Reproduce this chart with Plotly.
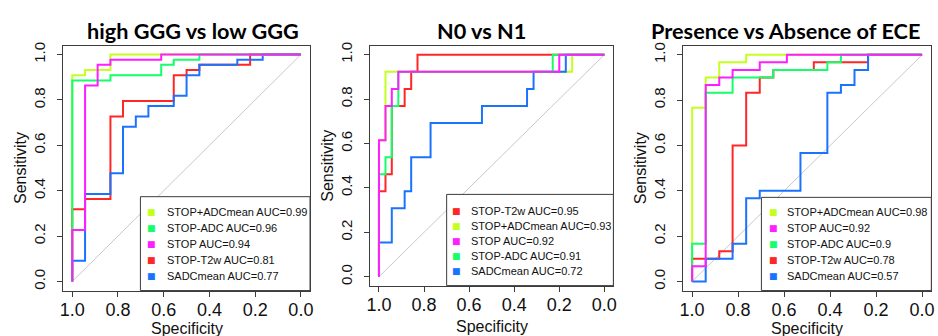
import plotly.graph_objects as go

W, H = 938, 336

# ---------------- data ----------------
spec_ticks = [1.0, 0.8, 0.6, 0.4, 0.2, 0.0]
sens_ticks = [0.0, 0.2, 0.4, 0.6, 0.8, 1.0]
spec_tick_text = ["1.0", "0.8", "0.6", "0.4", "0.2", "0.0"]
sens_tick_text = ["0.0", "0.2", "0.4", "0.6", "0.8", "1.0"]

titles = ["high GGG vs low GGG", "N0 vs N1", "Presence vs Absence of ECE"]
x_title = "Specificity"
y_title = "Sensitivity"

# reference (chance) line
diag_spec = [1.0, 0.0]
diag_sens = [0.0, 1.0]

# ROC step-curve corner points (specificity, sensitivity)
# Panel 1: high GGG vs low GGG
p1_stop_adcmean_spec = [1.0, 0.944, 0.833, 0.0]
p1_stop_adcmean_sens = [0.0, 0.909, 0.932, 1.0]
p1_stop_adc_spec = [1.0, 0.833, 0.611, 0.556, 0.444, 0.0]
p1_stop_adc_sens = [0.0, 0.886, 0.909, 0.955, 0.977, 1.0]
p1_stop_spec = [1.0, 0.944, 0.889, 0.833, 0.611, 0.0]
p1_stop_sens = [0.0, 0.227, 0.864, 0.955, 0.977, 1.0]
p1_stop_t2w_spec = [1.0, 0.944, 0.833, 0.778, 0.556, 0.5, 0.444, 0.222, 0.0]
p1_stop_t2w_sens = [0.0, 0.318, 0.364, 0.727, 0.795, 0.909, 0.932, 0.955, 1.0]
p1_sadcmean_spec = [1.0, 0.944, 0.833, 0.778, 0.722, 0.667, 0.556, 0.5, 0.444, 0.278, 0.167, 0.0]
p1_sadcmean_sens = [0.0, 0.091, 0.386, 0.477, 0.682, 0.727, 0.773, 0.818, 0.909, 0.955, 0.977, 1.0]

# Panel 2: N0 vs N1
p2_stop_t2w_spec = [1.0, 0.971, 0.943, 0.886, 0.857, 0.829, 0.0]
p2_stop_t2w_sens = [0.0, 0.385, 0.462, 0.769, 0.846, 0.923, 1.0]
p2_stop_adcmean_spec = [1.0, 0.971, 0.143, 0.0]
p2_stop_adcmean_sens = [0.0, 0.615, 0.923, 1.0]
p2_stop_spec = [1.0, 0.971, 0.943, 0.914, 0.2, 0.0]
p2_stop_sens = [0.0, 0.615, 0.769, 0.846, 0.923, 1.0]
p2_stop_adc_spec = [1.0, 0.971, 0.943, 0.914, 0.229, 0.0]
p2_stop_adc_sens = [0.0, 0.462, 0.538, 0.769, 0.923, 1.0]
p2_sadcmean_spec = [1.0, 0.943, 0.886, 0.857, 0.771, 0.543, 0.343, 0.314, 0.171, 0.0]
p2_sadcmean_sens = [0.0, 0.154, 0.308, 0.385, 0.538, 0.692, 0.769, 0.846, 0.923, 1.0]

# Panel 3: Presence vs Absence of ECE
p3_stop_adcmean_spec = [1.0, 0.941, 0.882, 0.765, 0.0]
p3_stop_adcmean_sens = [0.0, 0.767, 0.9, 0.967, 1.0]
p3_stop_spec = [1.0, 0.941, 0.882, 0.824, 0.706, 0.588, 0.0]
p3_stop_sens = [0.0, 0.067, 0.867, 0.9, 0.933, 0.967, 1.0]
p3_stop_adc_spec = [1.0, 0.941, 0.824, 0.647, 0.412, 0.353, 0.0]
p3_stop_adc_sens = [0.0, 0.167, 0.833, 0.9, 0.933, 0.967, 1.0]
p3_stop_t2w_spec = [1.0, 0.882, 0.824, 0.765, 0.706, 0.647, 0.471, 0.235, 0.0]
p3_stop_t2w_sens = [0.0, 0.1, 0.133, 0.6, 0.833, 0.9, 0.933, 0.967, 1.0]
p3_sadcmean_spec = [1.0, 0.941, 0.824, 0.765, 0.706, 0.529, 0.412, 0.353, 0.294, 0.235, 0.0]
p3_sadcmean_sens = [0.0, 0.0, 0.1, 0.167, 0.367, 0.4, 0.567, 0.833, 0.867, 0.933, 1.0]

# legend order and AUC values
p1_legend_names = ["STOP+ADCmean", "STOP-ADC", "STOP", "STOP-T2w", "SADCmean"]
p1_auc = [0.99, 0.96, 0.94, 0.81, 0.77]
p2_legend_names = ["STOP-T2w", "STOP+ADCmean", "STOP", "STOP-ADC", "SADCmean"]
p2_auc = [0.95, 0.93, 0.92, 0.91, 0.72]
p3_legend_names = ["STOP+ADCmean", "STOP", "STOP-ADC", "STOP-T2w", "SADCmean"]
p3_auc = [0.98, 0.92, 0.9, 0.78, 0.57]

# ---------------- styling ----------------
colors = {
    "STOP+ADCmean": "#c4ff1e",
    "STOP-ADC": "#14ff6a",
    "STOP": "#ff1eff",
    "STOP-T2w": "#ff2626",
    "SADCmean": "#1a73ff",
}
draw_order = ["STOP+ADCmean", "STOP-T2w", "SADCmean", "STOP-ADC", "STOP"]

curves = [
    {
        "STOP+ADCmean": (p1_stop_adcmean_spec, p1_stop_adcmean_sens),
        "STOP-ADC": (p1_stop_adc_spec, p1_stop_adc_sens),
        "STOP": (p1_stop_spec, p1_stop_sens),
        "STOP-T2w": (p1_stop_t2w_spec, p1_stop_t2w_sens),
        "SADCmean": (p1_sadcmean_spec, p1_sadcmean_sens),
    },
    {
        "STOP+ADCmean": (p2_stop_adcmean_spec, p2_stop_adcmean_sens),
        "STOP-ADC": (p2_stop_adc_spec, p2_stop_adc_sens),
        "STOP": (p2_stop_spec, p2_stop_sens),
        "STOP-T2w": (p2_stop_t2w_spec, p2_stop_t2w_sens),
        "SADCmean": (p2_sadcmean_spec, p2_sadcmean_sens),
    },
    {
        "STOP+ADCmean": (p3_stop_adcmean_spec, p3_stop_adcmean_sens),
        "STOP-ADC": (p3_stop_adc_spec, p3_stop_adc_sens),
        "STOP": (p3_stop_spec, p3_stop_sens),
        "STOP-T2w": (p3_stop_t2w_spec, p3_stop_t2w_sens),
        "SADCmean": (p3_sadcmean_spec, p3_sadcmean_sens),
    },
]
legends = [
    (p1_legend_names, p1_auc),
    (p2_legend_names, p2_auc),
    (p3_legend_names, p3_auc),
]

# plot boxes in pixels: left, top, right, bottom
boxes = [(60.5, 42, 309, 290), (369.3, 42.3, 614.3, 285), (684.3, 42.3, 934.3, 290)]
title_pos = [(191.5, 27), (481.7, 27), (787.5, 27)]
xtitle_y = [328, 326, 328]
legend_top = [195, 192.7, 195.7]
legend_left = [138.3, 446.5, 763.3]
legend_rows = [(211, 16), (209, 15.3), (211, 16)]
legend_text_x = [162.7, 469.3, 786.7]
legend_sq_x = [149, 456.7, 775]

FRAME = "#3c3c3c"
TICKFONT = "Liberation Sans, Arial, sans-serif"


def px(x):
    return x / W


def py(y):
    return 1 - y / H


fig = go.Figure()
layout = dict(
    width=W, height=H,
    margin=dict(l=0, r=0, t=0, b=0),
    paper_bgcolor="white", plot_bgcolor="white",
    showlegend=False,
    annotations=[], shapes=[],
)

for i in range(3):
    k = "" if i == 0 else str(i + 1)
    xa, ya = "x" + k, "y" + k
    bx0, by0, bx1, by1 = boxes[i]

    fig.add_trace(go.Scatter(
        x=diag_spec, y=diag_sens, mode="lines",
        line=dict(color="#c8c8c8", width=1),
        xaxis=xa, yaxis=ya, hoverinfo="skip", showlegend=False))
    for name in draw_order:
        sx, sy = curves[i][name]
        fig.add_trace(go.Scatter(
            x=sx, y=sy, mode="lines", name=name,
            line=dict(color=colors[name], width=2, shape="vh"),
            xaxis=xa, yaxis=ya, showlegend=False))

    layout["xaxis" + k] = dict(
        domain=[px(bx0), px(bx1)], anchor=ya,
        range=[1.04, -0.04], autorange=False,
        tickmode="array", tickvals=spec_ticks, ticktext=spec_tick_text,
        ticks="outside", ticklen=5, tickcolor=FRAME, tickwidth=1,
        ticklabelstandoff=-2,
        showline=True, linecolor=FRAME, linewidth=1, mirror=True,
        showgrid=False, zeroline=False,
        tickfont=dict(family=TICKFONT, size=18, color="#111"),
    )
    layout["yaxis" + k] = dict(
        domain=[py(by1), py(by0)], anchor=xa,
        range=[-0.04, 1.04], autorange=False,
        tickmode="array", tickvals=sens_ticks, ticktext=sens_tick_text,
        tickangle=-90, ticklabelstandoff=6,
        ticks="outside", ticklen=5, tickcolor=FRAME, tickwidth=1,
        showline=True, linecolor=FRAME, linewidth=1, mirror=True,
        showgrid=False, zeroline=False,
        tickfont=dict(family=TICKFONT, size=15, color="#111"),
        title=dict(text=y_title, standoff=0,
                   font=dict(family=TICKFONT, size=16, color="#111")),
    )

    # x-axis title
    layout["annotations"].append(dict(
        text=x_title, x=px((bx0 + bx1) / 2), y=py(xtitle_y[i]),
        xref="paper", yref="paper", xanchor="center", yanchor="middle",
        showarrow=False, font=dict(family=TICKFONT, size=16, color="#111")))

    # title
    tx, ty = title_pos[i]
    layout["annotations"].append(dict(
        text="<b>" + titles[i] + "</b>", x=px(tx), y=py(ty),
        xref="paper", yref="paper", xanchor="center", yanchor="middle",
        showarrow=False, font=dict(family="Lato, sans-serif", size=21.7, color="#000")))

    # legend box
    layout["shapes"].append(dict(
        type="rect", xref="paper", yref="paper",
        x0=px(legend_left[i]), x1=px(bx1), y0=py(by1), y1=py(legend_top[i]),
        line=dict(color=FRAME, width=1), fillcolor="white", layer="above"))
    names, aucs = legends[i]
    r0, dr = legend_rows[i]
    for j, (nm, a) in enumerate(zip(names, aucs)):
        yy = r0 + j * dr
        layout["annotations"].append(dict(
            text="■", x=px(legend_sq_x[i]), y=py(yy),
            xref="paper", yref="paper", xanchor="center", yanchor="middle",
            showarrow=False, font=dict(family="DejaVu Sans", size=9, color=colors[nm])))
        layout["annotations"].append(dict(
            text=f"{nm} AUC={a}", x=px(legend_text_x[i]), y=py(yy),
            xref="paper", yref="paper", xanchor="left", yanchor="middle",
            showarrow=False, font=dict(family=TICKFONT, size=11, color="#111")))

fig.update_layout(**layout)
fig.write_html("out.html", config={"displayModeBar": False},
               post_script="document.body.style.margin='0px';")
